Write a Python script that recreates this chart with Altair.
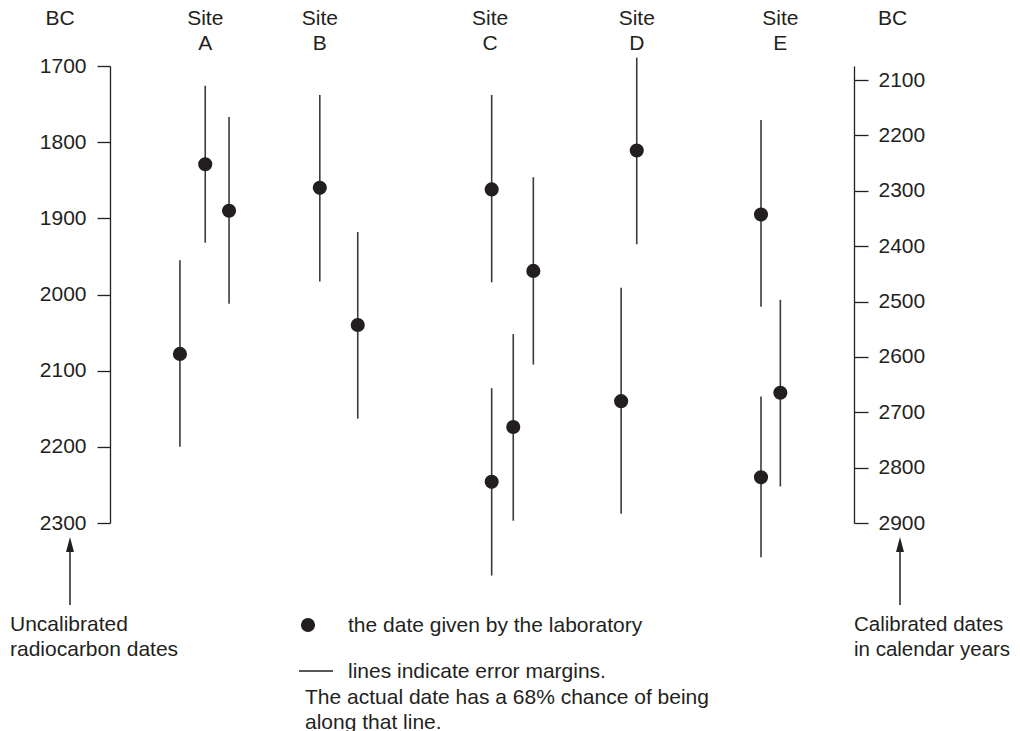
import altair as alt
import pandas as pd

# ---- data ----
sites = ["A", "A", "A", "B", "B", "C", "C", "C", "C", "D", "D", "E", "E", "E"]
lane = [9.4, 12.8, 16.0, 28.2, 33.3, 51.3, 56.9, 51.3, 54.2, 70.8, 68.7, 87.5, 90.1, 87.5]
date = [2078, 1829, 1890, 1860, 2040, 1862, 1969, 2246, 2174, 1811, 2140, 1895, 2129, 2240]
low = [1955, 1726, 1767, 1738, 1918, 1738, 1846, 2123, 2052, 1689, 1991, 1771, 2007, 2134]
high = [2200, 1932, 2012, 1983, 2163, 1984, 2092, 2369, 2297, 1934, 2288, 2016, 2252, 2345]

site_names = ["A", "B", "C", "D", "E"]
site_label_lane = [12.8, 28.2, 51.1, 70.8, 90.1]

left_ticks = [1700, 1800, 1900, 2000, 2100, 2200, 2300]
right_ticks = [2100, 2200, 2300, 2400, 2500, 2600, 2700, 2800, 2900]

df = pd.DataFrame({"site": sites, "lane": lane, "date": date, "low": low, "high": high})
labels_df = pd.DataFrame({"site": site_names, "lane": site_label_lane})
right_df = pd.DataFrame({"v": right_ticks})

INK = "#231f20"
FONT = "Liberation Sans"
FS = 21
W, H = 744, 457

xscale = alt.Scale(domain=[0, 100])
xenc = alt.X("lane:Q", scale=xscale, axis=None)
left_scale = alt.Scale(domain=[1700, 2300], reverse=True, nice=False, zero=False)
right_scale = alt.Scale(domain=[2074.7, 2900], reverse=True, nice=False, zero=False)

rules = alt.Chart(df).mark_rule(color="#3a3a3a", strokeWidth=1.6).encode(
    x=xenc,
    y=alt.Y("low:Q", scale=left_scale,
            axis=alt.Axis(orient="left", values=left_ticks, title=None, grid=False,
                          tickSize=13, labelPadding=11, format="d")),
    y2="high:Q",
)

points = alt.Chart(df).mark_circle(size=200, color=INK, opacity=1).encode(
    x=xenc,
    y=alt.Y("date:Q", scale=left_scale, axis=None),
)

right_axis = alt.Chart(right_df).mark_point(opacity=0).encode(
    x=alt.value(0),
    y=alt.Y("v:Q", scale=right_scale,
            axis=alt.Axis(orient="right", values=right_ticks, title=None, grid=False,
                          tickSize=14, labelPadding=10, format="d")),
)

site_word = alt.Chart(labels_df).mark_text(
    text="Site", font=FONT, fontSize=FS, color=INK, align="center", baseline="alphabetic"
).encode(x=xenc, y=alt.value(-41))

site_letter = alt.Chart(labels_df).mark_text(
    font=FONT, fontSize=FS, color=INK, align="center", baseline="alphabetic"
).encode(x=xenc, y=alt.value(-16), text="site:N")

one = alt.Data(values=[{}])


def txt(s, x, y, align="left", fs=FS):
    return alt.Chart(one).mark_text(
        text=s, font=FONT, fontSize=fs, color=INK, align=align, baseline="alphabetic"
    ).encode(x=alt.value(x), y=alt.value(y))


texts = [
    txt("BC", -50, -41, "center"),
    txt("BC", 782.5, -41, "center"),
    txt("Uncalibrated", -100, 565),
    txt("radiocarbon dates", -100, 590),
    txt("Calibrated dates", 744, 565, fs=20.5),
    txt("in calendar years", 744, 590, fs=20.5),
    txt("the date given by the laboratory", 238, 566),
    txt("lines indicate error margins.", 238, 612),
    txt("The actual date has a 68% chance of being", 195, 638),
    txt("along that line.", 195, 663),
]

arrow_path = "M0,-1L0.53,1L-0.53,1Z"


def arrow(x):
    shaft = alt.Chart(one).mark_rule(color=INK, strokeWidth=1.5).encode(
        x=alt.value(x), y=alt.value(484), y2=alt.value(539))
    head = alt.Chart(one).mark_point(shape=arrow_path, filled=True, color=INK,
                                     opacity=1, size=225, strokeWidth=0).encode(
        x=alt.value(x), y=alt.value(478.5))
    return [shaft, head]


legend_dot = alt.Chart(one).mark_circle(size=200, color=INK, opacity=1).encode(
    x=alt.value(198), y=alt.value(559))
legend_line = alt.Chart(one).mark_rule(color=INK, strokeWidth=1.3).encode(
    x=alt.value(189), x2=alt.value(223), y=alt.value(605))

chart = alt.layer(
    rules, points, right_axis, site_word, site_letter,
    *texts, *arrow(-40), *arrow(790), legend_dot, legend_line,
).resolve_scale(y="independent").properties(
    width=W, height=H,
    autosize=alt.AutoSizeParams(type="none"),
    padding={"left": 102, "top": 58, "right": 158, "bottom": 208},
).configure_view(stroke=None).configure_axis(
    labelFont=FONT, labelFontSize=FS, labelColor=INK,
    domainColor=INK, domainWidth=1.3, tickColor=INK, tickWidth=1.3,
)

chart.save("out.html", embed_options={"renderer": "svg", "actions": False})
